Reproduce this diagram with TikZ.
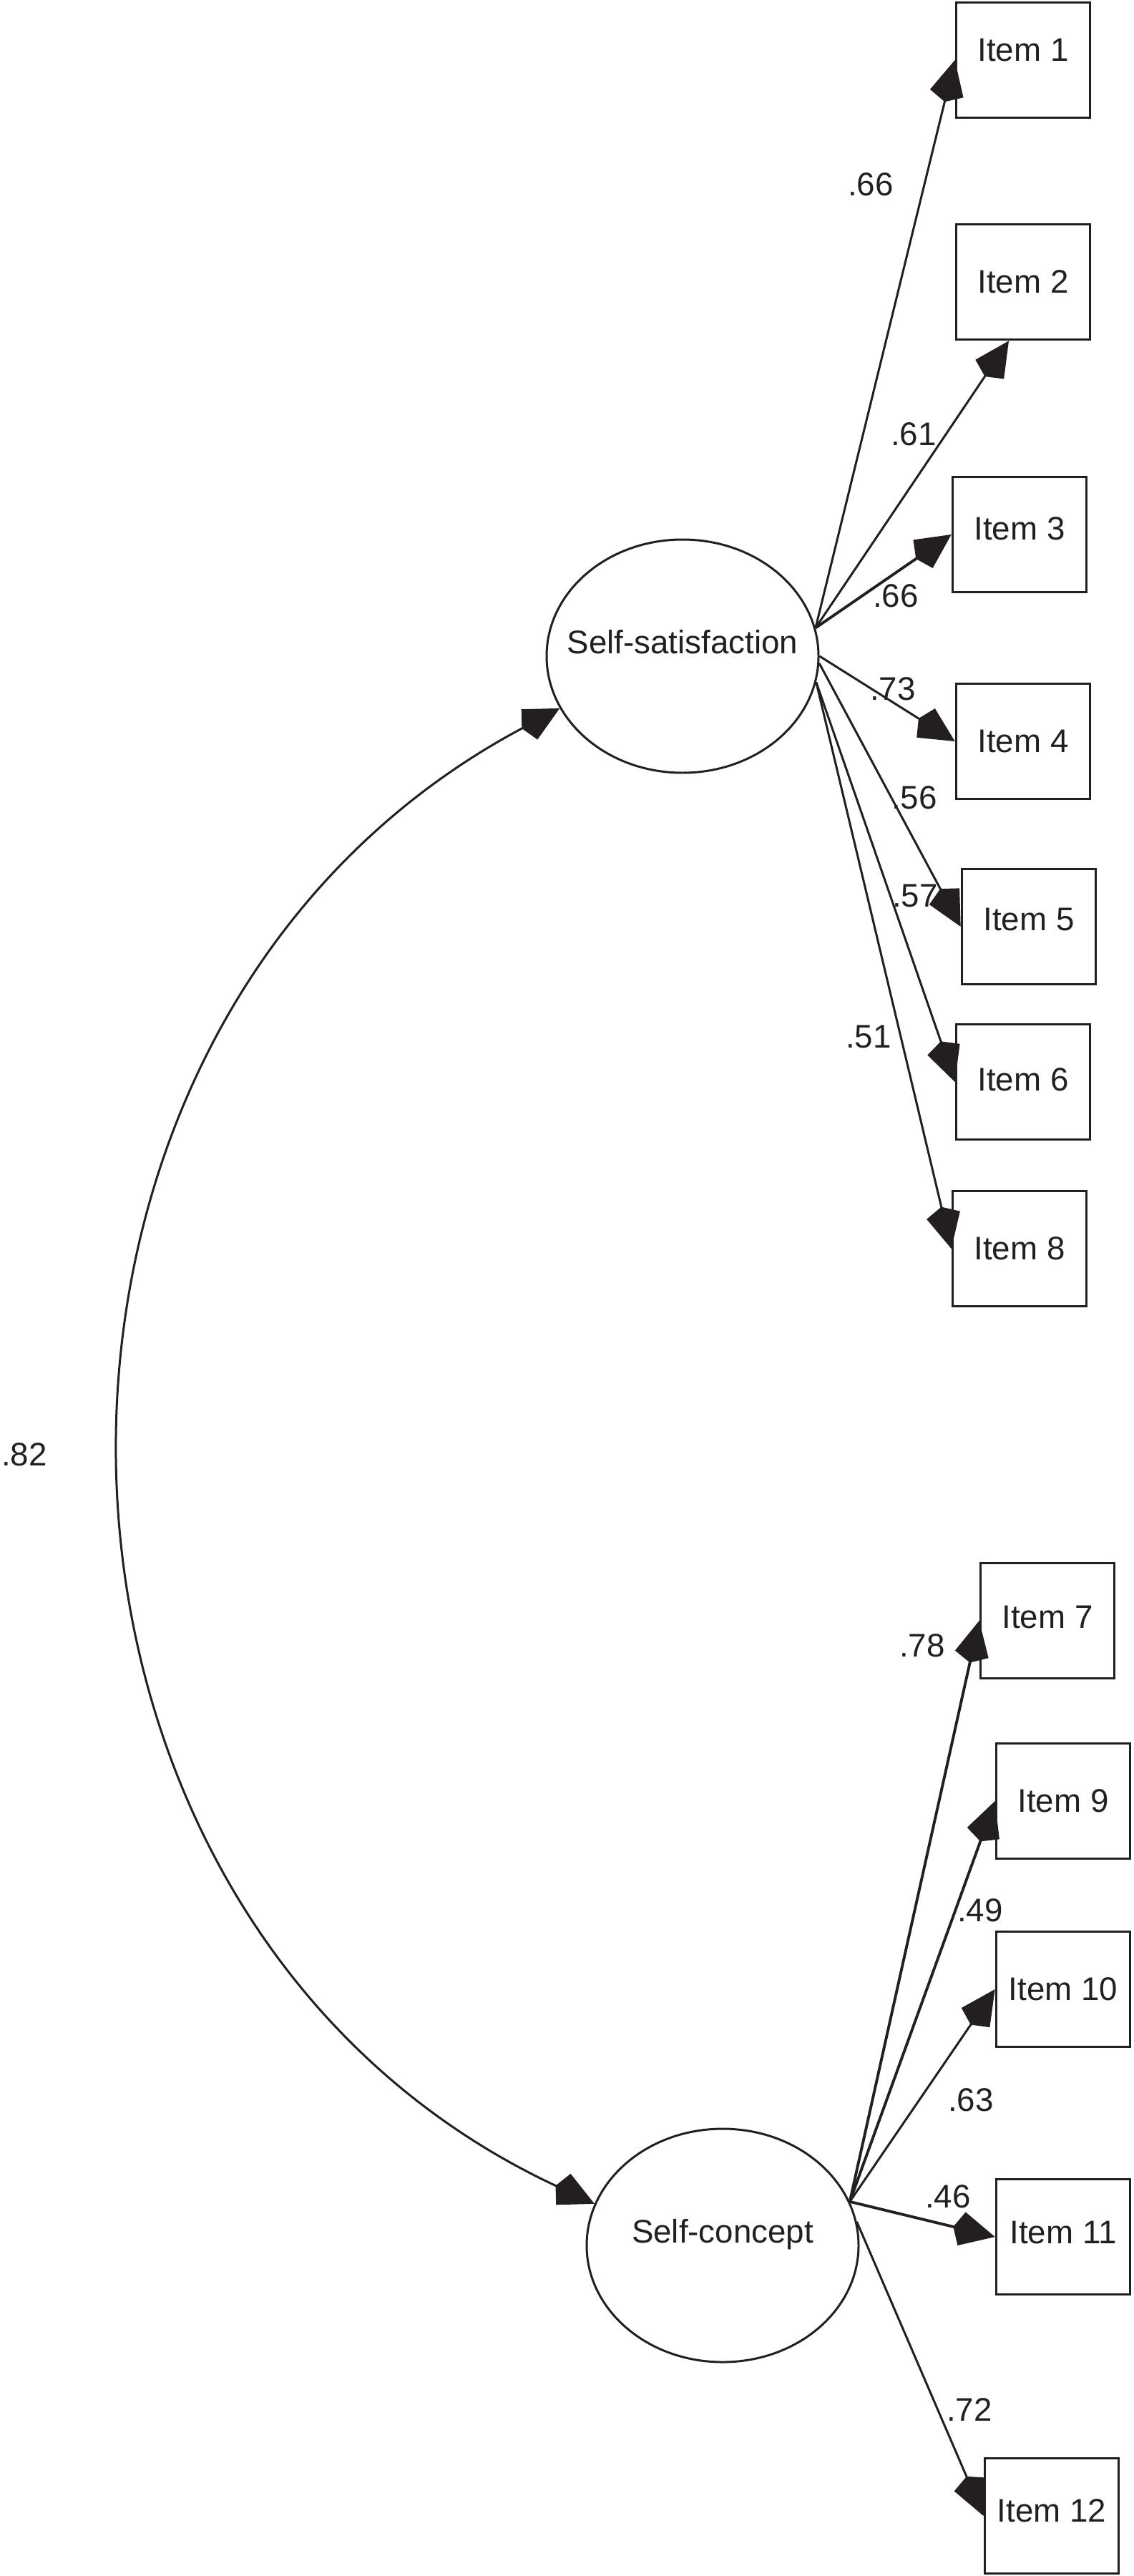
\documentclass[tikz,border=0pt]{standalone}
\usepackage{fontspec}
\setmainfont{Liberation Sans}
\usepackage{tikz}
\usetikzlibrary{shapes.geometric,arrows.meta,positioning}
\definecolor{semink}{HTML}{231F20}
\tikzset{
  latent/.style={ellipse,draw=semink,line width=0.85pt,minimum width=3.8cm,
                 minimum height=3.26cm,inner sep=0pt},
  latentlab/.style={text=semink,inner sep=0pt,text height=0.34cm,text depth=0.42cm},
  item/.style={rectangle,draw=semink,line width=1.05pt,minimum width=1.87cm,
               minimum height=1.61cm,inner sep=0pt,text=semink,
               text height=0.34cm,text depth=0.04cm},
  raised/.style={text depth=#1},
  coef/.style={text=semink,inner sep=0pt},
  load/.style={-{Kite[length=6mm,width=4.8mm,inset=1.2mm]},line width=0.85pt,draw=semink},
  heavy/.style={line width=1.1pt},
  cov/.style={{Kite[length=6mm,width=4.8mm,inset=1.2mm]}-{Kite[length=6mm,width=4.8mm,inset=1.2mm]},
              line width=0.85pt,draw=semink},
}

\begin{document}
\begin{tikzpicture}[font=\fontsize{13}{15}\selectfont]
  \useasboundingbox (0,0) rectangle (15.84,-36);
  % latent factors
  \node[latent] (ss) at (9.54,-9.17){};
  \node[latentlab] (sslab) at (ss.center){Self-satisfaction};
  \node[latent] (sc) at (10.10,-31.38){};
  \node[latentlab] (sclab) at (sc.center){Self-concept};
  % observed items
  \node[item,raised=0.3cm] (i1) at (14.30,-0.84){Item 1};
  \node[item] (i2) at (14.30,-3.94){Item 2};
  \node[item,raised=0.2cm] (i3) at (14.25,-7.47){Item 3};
  \node[item] (i4) at (14.30,-10.36){Item 4};
  \node[item,raised=0.24cm] (i5) at (14.38,-12.95){Item 5};
  \node[item,raised=0.1cm] (i6) at (14.30,-15.12){Item 6};
  \node[item] (i8) at (14.25,-17.45){Item 8};
  \node[item,raised=0.14cm] (i7) at (14.64,-22.65){Item 7};
  \node[item] (i9) at (14.86,-25.17){Item 9};
  \node[item] (i10) at (14.86,-27.80){Item 10};
  \node[item,raised=0.16cm] (i11) at (14.86,-31.26){Item 11};
  \node[item,raised=0.18cm] (i12) at (14.70,-35.16){Item 12};
  % loadings
  \draw[load] (ss.12) -- (i1.west);
  \draw[load] (ss.12) -- ([xshift=-2mm]i2.south);
  \draw[load,heavy] (ss.12) -- (i3.west);
  \draw[load] (ss.east) -- (i4.west);
  \draw[load] (ss.-3) -- (i5.west);
  \draw[load] (ss.-11) -- (i6.west);
  \draw[load] (ss.-11) -- (i8.west);
  \draw[load,heavy] (sc.19) -- (i7.west);
  \draw[load,heavy] (sc.19) -- (i9.west);
  \draw[load] (sc.19) -- (i10.west);
  \draw[load,heavy] (sc.19) -- (i11.west);
  \draw[load] (sc.10) -- (i12.west);
  % factor correlation
  \draw[cov] (ss.203) to[out=208,in=155,looseness=1.15] (sc.162);
  \node[coef] (r) at (0.34,-20.33){.82};
  \node[coef] (l1) at (12.17,-2.58){.66};
  \node[coef] (l2) at (12.77,-6.07){.61};
  \node[coef] (l3) at (12.52,-8.33){.66};
  \node[coef] (l4) at (12.48,-9.63){.73};
  \node[coef] (l5) at (12.78,-11.15){.56};
  \node[coef] (l6) at (12.79,-12.52){.57};
  \node[coef] (l8) at (12.14,-14.49){.51};
  \node[coef] (l7) at (12.89,-23.00){.78};
  \node[coef] (l9) at (13.70,-26.70){.49};
  \node[coef] (l10) at (13.57,-29.35){.63};
  \node[coef] (l11) at (13.25,-30.70){.46};
  \node[coef] (l12) at (13.55,-33.68){.72};
\end{tikzpicture}
\end{document}
